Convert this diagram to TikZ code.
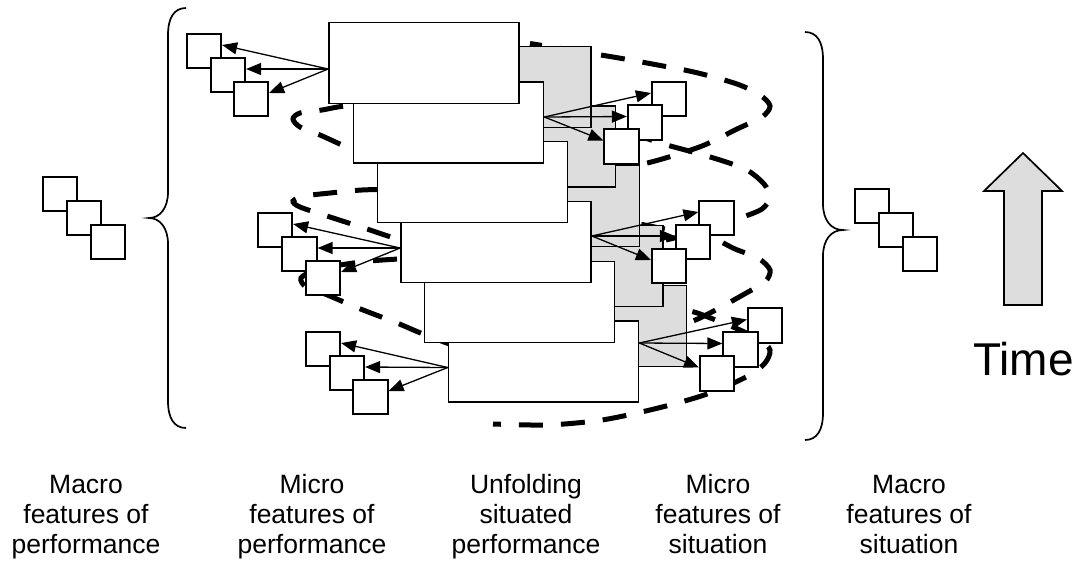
\documentclass[tikz,border=0pt]{standalone}
\usepackage{fontspec}
\setmainfont{Liberation Sans}
\usetikzlibrary{arrows.meta}
\definecolor{stackgray}{HTML}{DDDDDD}

\begin{document}
\begin{tikzpicture}[x=1pt, y=-1pt,
  every node/.style={font=\fontsize{26.5}{30}\selectfont},
  stackbox/.style={draw, line width=1.7pt, fill=white, minimum width=190pt,
                   minimum height=81pt, inner sep=0pt},
  backbox/.style={stackbox, fill=stackgray},
  feat/.style={draw, line width=1.7pt, fill=white, minimum size=34.5pt, inner sep=0pt},
  pointer/.style={-{Triangle[length=15pt,width=12pt]}, line width=1.3pt},
  spiral/.style={line width=5pt, dash pattern=on 24pt off 18pt},
  caption/.style={align=center, anchor=base}
]
\useasboundingbox (0,0) rectangle (1084,566);

% dashed spirals, behind the stack
\draw[spiral, dash phase=12pt] plot[smooth] coordinates {
  (530,43.5) (613,57) (655,64.5) (696,72.5) (737,84) (760,95) (770,106)
  (762,117) (737,129) (702,146) (655,161) (610,171) (540,181) (460,187)
  (400,189) (362,190) (330,193) (305,196) (293,201) (300,207) (327,216)
  (367,229) (400,240) (480,265) (560,288) (640,302) (690,311) (713,319)
  (740,330) (760,340) (770,350) (765,363) (748,376) (710,393) (670,405)
  (628,415) (595,421) (547,425) (493,424)};
\draw[spiral] plot[smooth] coordinates {
  (385,104) (345,106) (322,110) (300,113) (293,119) (300,127) (320,135)
  (342,145) (365,155) (450,180) (550,205) (630,222) (680,232) (712,238)
  (735,249) (758,258) (770,270) (765,282) (748,292) (723,306) (700,318)
  (680,326)};
\draw[spiral] plot[smooth] coordinates {
  (590,118) (627,131) (660,143) (707,156) (745,169) (764,184) (770,197)
  (762,209) (740,218) (715,226) (690,234) (640,245) (560,252) (480,256)
  (415,258) (398,259) (370,261) (340,265) (315,270) (301,278) (306,287)
  (325,294) (358,308) (397,323) (423,334) (460,348)};

% unfolding performance
\node[backbox] (g5) at (591.5,326) {};
\node[backbox] (g4) at (568,266) {};
\node[backbox] (g3) at (544.5,206) {};
\node[backbox] (g2) at (520.5,146.5) {};
\node[backbox] (g1) at (496,87) {};
\node[stackbox] (w6) at (543.5,361.5) {};
\node[stackbox] (w5) at (519.5,302) {};
\node[stackbox] (w4) at (496,242) {};
\node[stackbox] (w3) at (472.5,182) {};
\node[stackbox] (w2) at (448.5,122.5) {};
\node[stackbox] (w1) at (424,63) {};

% macro features
\node[feat] (mp1) at (60,194) {};
\node[feat] (mp2) at (84,218) {};
\node[feat] (mp3) at (108,242) {};
\node[feat] (ms1) at (872,206) {};
\node[feat] (ms2) at (896,230) {};
\node[feat] (ms3) at (920,254) {};

% micro features of performance
\node[feat] (pa1) at (204,51) {};
\node[feat] (pa2) at (228,75) {};
\node[feat] (pa3) at (251,99) {};
\node[feat] (pb1) at (275,230) {};
\node[feat] (pb2) at (299.5,254) {};
\node[feat] (pb3) at (323,278) {};
\node[feat] (pc1) at (323,349) {};
\node[feat] (pc2) at (347,373) {};
\node[feat] (pc3) at (370.5,397) {};

% micro features of situation
\node[feat] (sa1) at (669,99) {};
\node[feat] (sa2) at (645,122.5) {};
\node[feat] (sa3) at (621.5,146.5) {};
\node[feat] (sb1) at (716.5,218) {};
\node[feat] (sb2) at (693,242) {};
\node[feat] (sb3) at (669,266) {};
\node[feat] (sc1) at (765,325.5) {};
\node[feat] (sc2) at (740.5,349.5) {};
\node[feat] (sc3) at (717,373.5) {};

\draw[pointer] ([yshift=-6pt]w1.west) -- ([yshift=6pt]pa1.east);
\draw[pointer] ([yshift=-6pt]w1.west) -- ([yshift=6pt]pa2.east);
\draw[pointer] ([yshift=-6pt]w1.west) -- ([yshift=6pt]pa3.east);
\draw[pointer] ([yshift=-6pt]w4.west) -- ([yshift=6pt]pb1.east);
\draw[pointer] ([yshift=-6pt]w4.west) -- ([yshift=6pt]pb2.east);
\draw[pointer] ([yshift=-6pt]w4.west) -- ([yshift=6pt]pb3.east);
\draw[pointer] ([yshift=-6pt]w6.west) -- ([yshift=6pt]pc1.east);
\draw[pointer] ([yshift=-6pt]w6.west) -- ([yshift=6pt]pc2.east);
\draw[pointer] ([yshift=-6pt]w6.west) -- ([yshift=6pt]pc3.east);
\draw[pointer] ([yshift=5.5pt]w2.east) -- ([yshift=6pt]sa1.west);
\draw[pointer] ([yshift=5.5pt]w2.east) -- ([yshift=6pt]sa2.west);
\draw[pointer] ([yshift=5.5pt]w2.east) -- ([yshift=6pt]sa3.west);
\draw[pointer] ([yshift=6pt]w4.east) -- ([yshift=6pt]sb1.west);
\draw[pointer] ([yshift=6pt]w4.east) -- ([yshift=6pt]sb2.west);
\draw[pointer] ([yshift=6pt]w4.east) -- ([yshift=6pt]sb3.west);
\draw[pointer] ([yshift=18.5pt]w6.east) -- ([yshift=6pt]sc1.west);
\draw[pointer] ([yshift=18.5pt]w6.east) -- ([yshift=6pt]sc2.west);
\draw[pointer] ([yshift=18.5pt]w6.east) -- ([yshift=6pt]sc3.west);

% braces
\draw[line width=1.7pt] (186,8) .. controls (174,8) and (168,18) .. (168,35)
  -- (168,192) .. controls (168,208) and (160,218) .. (149,218)
  .. controls (160,218) and (168,228) .. (168,244) -- (168,401)
  .. controls (168,418) and (174,428) .. (186,428);
\draw[line width=1.7pt] (805,32) .. controls (817,32) and (823,42) .. (823,59)
  -- (823,204) .. controls (823,220) and (831,230) .. (843,230)
  .. controls (831,230) and (823,240) .. (823,256) -- (823,413)
  .. controls (823,430) and (817,440) .. (805,440);

% time
\draw[line width=1.7pt, fill=stackgray] (1023,153) -- (1062,191) -- (1042,191)
  -- (1042,305) -- (1004,305) -- (1004,191) -- (984,191) -- cycle;
\node[font=\fontsize{46}{50}\selectfont, anchor=base] (timelabel) at (1023.5,375) {Time};

\node[caption] (macroperf) at (86,553) {Macro\\features of\\performance};
\node[caption] (microperf) at (312,553) {Micro\\features of\\performance};
\node[caption] (unfolding) at (526,553) {Unfolding\\situated\\performance};
\node[caption] (microsit) at (718,553) {Micro\\features of\\situation};
\node[caption] (macrosit) at (909,553) {Macro\\features of\\situation};
\end{tikzpicture}
\end{document}
